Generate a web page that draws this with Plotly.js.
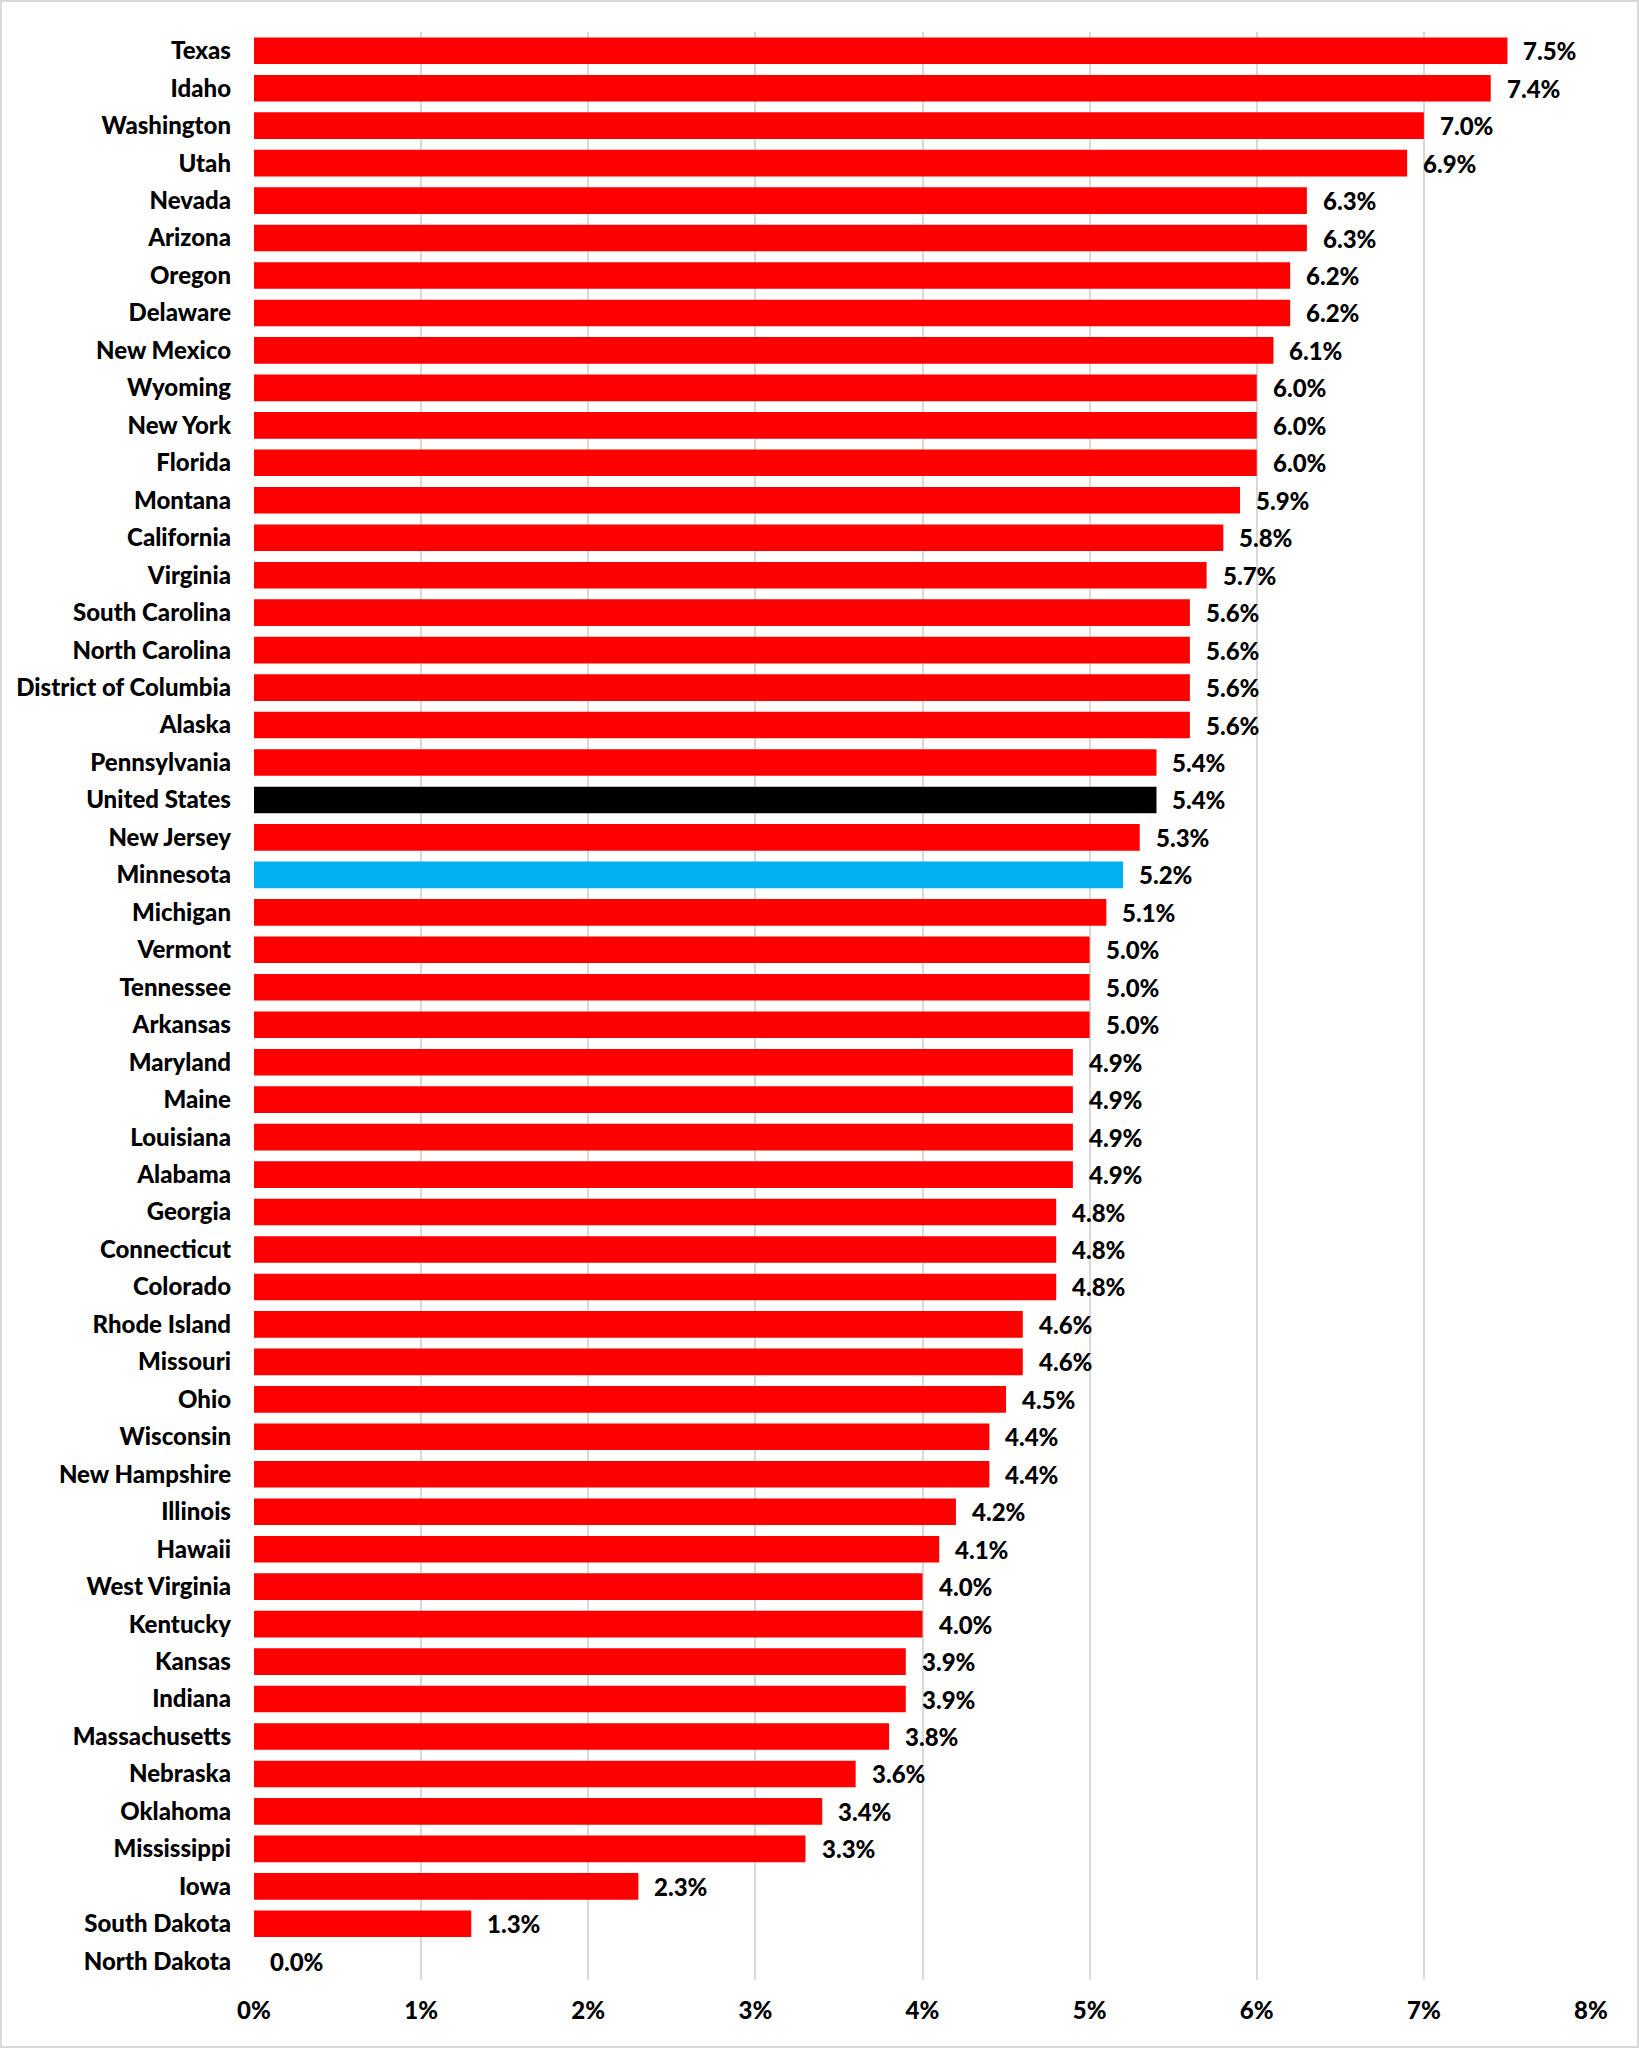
<!DOCTYPE html>
<html>
<head>
<meta charset="utf-8">
<script src="https://cdn.plot.ly/plotly-3.0.1.min.js"></script>
<style>
  html, body { margin: 0; padding: 0; background: #fff; }
  #wrap { position: relative; width: 1639px; height: 2048px; }
  #frame { position: absolute; left: 0; top: 0; width: 1639px; height: 2048px;
           box-sizing: border-box; border: 2px solid #d9d9d9; pointer-events: none; }
</style>
</head>
<body>
<div id="wrap">
  <div id="chart"></div>
  <div id="frame"></div>
</div>
<script>
const states = [
  'Texas', 'Idaho', 'Washington', 'Utah', 'Nevada', 'Arizona', 'Oregon', 'Delaware',
  'New Mexico', 'Wyoming', 'New York', 'Florida', 'Montana', 'California', 'Virginia',
  'South Carolina', 'North Carolina', 'District of Columbia', 'Alaska', 'Pennsylvania',
  'United States', 'New Jersey', 'Minnesota', 'Michigan', 'Vermont', 'Tennessee',
  'Arkansas', 'Maryland', 'Maine', 'Louisiana', 'Alabama', 'Georgia', 'Connecticut',
  'Colorado', 'Rhode Island', 'Missouri', 'Ohio', 'Wisconsin', 'New Hampshire',
  'Illinois', 'Hawaii', 'West Virginia', 'Kentucky', 'Kansas', 'Indiana',
  'Massachusetts', 'Nebraska', 'Oklahoma', 'Mississippi', 'Iowa', 'South Dakota',
  'North Dakota'
];

// percent values as printed on the bars
const growth = [
  7.5, 7.4, 7.0, 6.9, 6.3, 6.3, 6.2, 6.2,
  6.1, 6.0, 6.0, 6.0, 5.9, 5.8, 5.7,
  5.6, 5.6, 5.6, 5.6, 5.4,
  5.4, 5.3, 5.2, 5.1, 5.0, 5.0,
  5.0, 4.9, 4.9, 4.9, 4.9, 4.8, 4.8,
  4.8, 4.6, 4.6, 4.5, 4.4, 4.4,
  4.2, 4.1, 4.0, 4.0, 3.9, 3.9,
  3.8, 3.6, 3.4, 3.3, 2.3, 1.3,
  0.0
];

const xTicks = [0, 1, 2, 3, 4, 5, 6, 7, 8];
const xTickText = ['0%', '1%', '2%', '3%', '4%', '5%', '6%', '7%', '8%'];

const colorFor = s => s === 'United States' ? '#000000'
                    : s === 'Minnesota' ? '#00b0f0' : '#ff0000';

const fontFam = 'Lato, "Open Sans", sans-serif';
const txt = { family: fontFam, size: 24, color: '#000', weight: 900 };

const bars = {
  type: 'bar',
  orientation: 'h',
  x: growth,
  y: states,
  marker: { color: states.map(colorFor), line: { width: 0 } },
  hoverinfo: 'none'
};

// value labels sitting just right of each bar end
const valueLabels = states.map((s, i) => ({
  x: growth[i],
  y: s,
  xref: 'x',
  yref: 'y',
  text: growth[i].toFixed(1) + '%',
  showarrow: false,
  xanchor: 'left',
  xshift: 14,
  font: txt
}));

const layout = {
  width: 1639,
  height: 2048,
  paper_bgcolor: '#ffffff',
  plot_bgcolor: '#ffffff',
  margin: { l: 254, r: 48, t: 32, b: 68 },
  showlegend: false,
  bargap: 0.29,
  font: txt,
  xaxis: {
    range: [0, 8],
    tickvals: xTicks,
    ticktext: xTickText,
    showgrid: true,
    gridcolor: '#d9d9d9',
    gridwidth: 2,
    zeroline: false,
    showline: false,
    ticks: '',
    ticklabelstandoff: 14,
    tickfont: txt,
    fixedrange: true
  },
  yaxis: {
    type: 'category',
    autorange: 'reversed',
    showgrid: false,
    zeroline: false,
    showline: false,
    ticks: '',
    ticklabelstandoff: 22,
    tickfont: txt,
    fixedrange: true
  },
  annotations: valueLabels
};

Plotly.newPlot('chart', [bars], layout, { staticPlot: true, displayModeBar: false });
</script>
</body>
</html>
